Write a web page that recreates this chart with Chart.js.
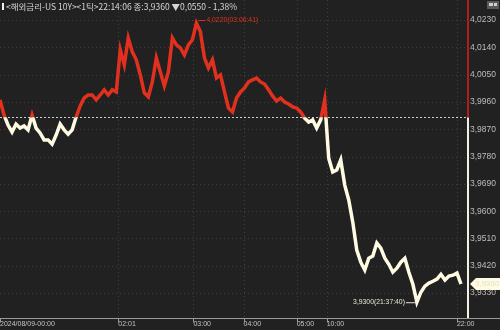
<!DOCTYPE html>
<html>
<head>
<meta charset="utf-8">
<script src="https://cdn.jsdelivr.net/npm/chart.js@4.4.1/dist/chart.umd.min.js"></script>
<style>
  html, body { margin: 0; background: #212121; }
  #wrap { width: 500px; height: 330px; position: relative; }
</style>
</head>
<body>
<div id="wrap"><canvas id="chart"></canvas></div>
<script>
const titleText = '<해외금리-US 10Y><1틱>22:14:06 종:3,9360 ▼0,0550 - 1,38%';
const prevClose = 3.9910;
const lastPrice = 3.9360;
const sampleStep = 4;

// price path, one sample per step along the session
const prices = [
  3.9967, 3.9917, 3.9884, 3.9861, 3.9887, 3.9874, 3.9881, 3.9868, 3.9917, 3.9874,
  3.9858, 3.9835, 3.9835, 3.9821, 3.9851, 3.9887, 3.9868, 3.9854, 3.9868, 3.9911,
  3.9947, 3.9973, 3.9983, 3.9983, 3.9967, 3.9983, 4.0000, 3.9983, 4.0000, 3.9993,
  4.0132, 4.0082, 4.0171, 4.0125, 4.0099, 4.0049, 3.9990, 3.9977, 4.0026, 4.0105,
  4.0059, 4.0013, 4.0059, 4.0171, 4.0148, 4.0138, 4.0115, 4.0148, 4.0165, 4.0220,
  4.0191, 4.0105, 4.0072, 4.0099, 4.0039, 4.0049, 3.9993, 3.9940, 3.9927, 3.9973,
  3.9993, 4.0006, 4.0026, 4.0033, 4.0039, 4.0026, 4.0019, 4.0000, 3.9980, 3.9963,
  3.9973, 3.9960, 3.9953, 3.9944, 3.9940, 3.9927, 3.9907, 3.9894, 3.9901, 3.9874,
  3.9901, 3.9967, 3.9775, 3.9729, 3.9736, 3.9769, 3.9686, 3.9637, 3.9564, 3.9472,
  3.9432, 3.9406, 3.9445, 3.9452, 3.9495, 3.9478, 3.9445, 3.9425, 3.9399, 3.9412,
  3.9432, 3.9445, 3.9399, 3.9359, 3.9300, 3.9333, 3.9353, 3.9363, 3.9369, 3.9376,
  3.9392, 3.9373, 3.9386, 3.9389, 3.9396, 3.9360
];

const xTickPos = [0, 118, 193, 243, 296, 326, 456];
const xTickLabels = ['2024/08/09-00:00', '02:01', '03:00', '04:00', '05:00', '10:00', '22:00'];
const yTicks = [3.9330, 3.9420, 3.9510, 3.9600, 3.9690, 3.9780, 3.9870, 3.9960, 4.0050, 4.0140, 4.0230];
const highLabel = '4,0220(03:06:41)';
const lowLabel = '3,9300(21:37:40)';

const RED = '#e2301f';
const CREAM = '#fffbe2';
const fmt = v => v.toFixed(4).replace('.', ',');
const points = prices.map((v, i) => ({ x: i * sampleStep, y: v }));

const noPad = scale => {
  scale.paddingTop = 0;
  scale.paddingBottom = 0;
  scale.paddingLeft = 0;
  scale.paddingRight = 0;
};

const splitPlugin = {
  id: 'split',
  beforeDraw(chart) {
    const { ctx } = chart;
    ctx.save();
    ctx.fillStyle = '#212121';
    ctx.fillRect(0, 0, chart.width, chart.height);
    ctx.restore();
  },
  beforeDatasetsDraw(chart) {
    const { ctx, chartArea: a, scales: { x, y } } = chart;
    ctx.save();
    ctx.strokeStyle = '#3d3d3d';
    ctx.lineWidth = 1;
    ctx.setLineDash([1, 3]);
    yTicks.forEach(t => {
      const py = Math.round(y.getPixelForValue(t)) + 0.5;
      ctx.beginPath(); ctx.moveTo(a.left, py); ctx.lineTo(a.right, py); ctx.stroke();
    });
    xTickPos.slice(1).forEach(t => {
      const px = Math.round(x.getPixelForValue(t)) + 0.5;
      ctx.beginPath(); ctx.moveTo(px, a.top); ctx.lineTo(px, a.bottom); ctx.stroke();
    });
    ctx.restore();
  },
  beforeDatasetDraw(chart, args) {
    const { ctx, chartArea: a, scales: { y } } = chart;
    const base = y.getPixelForValue(prevClose);
    ctx.save();
    ctx.beginPath();
    if (args.index === 0) ctx.rect(a.left, 0, a.right - a.left, base);
    else ctx.rect(a.left, base, a.right - a.left, chart.height - base);
    ctx.clip();
  },
  afterDatasetDraw(chart) {
    chart.ctx.restore();
  },
  afterDatasetsDraw(chart) {
    const { ctx, chartArea: a, scales: { x, y } } = chart;
    const base = Math.round(y.getPixelForValue(prevClose)) + 0.5;
    ctx.save();

    // previous close line
    ctx.strokeStyle = '#cfcfcf';
    ctx.setLineDash([2, 2]);
    ctx.beginPath(); ctx.moveTo(a.left, base); ctx.lineTo(a.right, base); ctx.stroke();
    ctx.setLineDash([]);

    // right axis line, red above the close, white below
    const ax = a.right + 1;
    ctx.lineWidth = 2;
    ctx.strokeStyle = '#b01e1e';
    ctx.beginPath(); ctx.moveTo(ax, 0); ctx.lineTo(ax, base); ctx.stroke();
    ctx.strokeStyle = '#f4f1e4';
    ctx.beginPath(); ctx.moveTo(ax, base); ctx.lineTo(ax, a.bottom); ctx.stroke();

    // bottom axis line and ticks
    ctx.lineWidth = 1;
    ctx.strokeStyle = '#9a9a9a';
    const by = a.bottom + 0.5;
    ctx.beginPath(); ctx.moveTo(0, by); ctx.lineTo(chart.width, by); ctx.stroke();
    xTickPos.forEach(t => {
      const px = Math.round(x.getPixelForValue(t)) + 0.5;
      ctx.beginPath(); ctx.moveTo(px, by); ctx.lineTo(px, by + 4); ctx.stroke();
    });

    // high / low annotations
    const hiIdx = prices.indexOf(Math.max(...prices));
    const loIdx = prices.indexOf(Math.min(...prices));
    const hx = x.getPixelForValue(points[hiIdx].x), hy = y.getPixelForValue(prices[hiIdx]);
    const lx = x.getPixelForValue(points[loIdx].x), ly = y.getPixelForValue(prices[loIdx]);
    ctx.font = '6.8px "Liberation Sans"';
    ctx.textBaseline = 'middle';
    ctx.strokeStyle = RED; ctx.fillStyle = RED;
    ctx.beginPath(); ctx.moveTo(hx + 2, hy - 2.5); ctx.lineTo(hx + 9, hy - 2.5); ctx.stroke();
    ctx.textAlign = 'left';
    ctx.fillText(highLabel, hx + 10, hy - 2.5);
    ctx.strokeStyle = '#e8e6da'; ctx.fillStyle = '#e8e6da';
    ctx.beginPath(); ctx.moveTo(lx - 11, ly + 0.5); ctx.lineTo(lx, ly + 0.5); ctx.stroke();
    ctx.textAlign = 'right';
    ctx.fillText(lowLabel, lx - 12, ly);

    // last price marker
    const py = y.getPixelForValue(lastPrice);
    ctx.fillStyle = CREAM;
    ctx.beginPath();
    ctx.moveTo(ax + 2, py);
    ctx.lineTo(ax + 8, py - 6);
    ctx.lineTo(chart.width, py - 6);
    ctx.lineTo(chart.width, py + 6);
    ctx.lineTo(ax + 8, py + 6);
    ctx.closePath();
    ctx.fill();
    ctx.fillStyle = '#e4e1cf';
    ctx.font = '8px "Liberation Sans"';
    ctx.textAlign = 'left';
    ctx.fillText(fmt(lastPrice), ax + 7, py);

    // title
    ctx.fillStyle = '#f0f0f0';
    ctx.fillRect(2, 3, 2, 7);
    ctx.fillStyle = '#d6d6d6';
    ctx.font = '8.5px "Noto Sans CJK KR"';
    ctx.textAlign = 'left';
    ctx.fillText(titleText, 6, 7);

    // small widget icon top right
    ctx.fillStyle = '#5a5a5a';
    ctx.fillRect(487, 1, 12, 8);
    ctx.fillStyle = '#cfcfcf';
    ctx.fillRect(489, 3, 4, 3);
    ctx.fillRect(494, 3, 3, 3);
    ctx.restore();
  }
};

new Chart(document.getElementById('chart'), {
  type: 'line',
  data: {
    datasets: [
      { data: points, borderColor: RED, borderWidth: 3.5, pointRadius: 0, tension: 0 },
      { data: points, borderColor: CREAM, borderWidth: 3.5, pointRadius: 0, tension: 0 }
    ]
  },
  options: {
    responsive: true,
    maintainAspectRatio: false,
    animation: false,
    layout: { padding: 0 },
    plugins: { legend: { display: false }, tooltip: { enabled: false } },
    scales: {
      x: {
        type: 'linear',
        min: 0,
        max: 466,
        grid: { display: false, drawTicks: false },
        border: { display: false },
        afterBuildTicks: scale => { scale.ticks = xTickPos.map(v => ({ value: v })); },
        afterFit: scale => { scale.height = 12; noPad(scale); },
        ticks: {
          autoSkip: false,
          maxRotation: 0,
          align: 'start',
          padding: 2,
          color: '#c4c4c4',
          font: { family: 'Liberation Sans', size: 7 },
          callback: (v, i) => xTickLabels[i]
        }
      },
      y: {
        position: 'right',
        min: 3.9248,
        max: 4.0296,
        grid: { display: false, drawTicks: false },
        border: { display: false },
        afterBuildTicks: scale => { scale.ticks = yTicks.map(v => ({ value: v })); },
        afterFit: scale => { scale.width = 33; noPad(scale); },
        ticks: {
          padding: 3,
          color: '#bdbdbd',
          font: { family: 'Liberation Sans', size: 8.5 },
          callback: v => fmt(v)
        }
      }
    }
  },
  plugins: [splitPlugin]
});
</script>
</body>
</html>
